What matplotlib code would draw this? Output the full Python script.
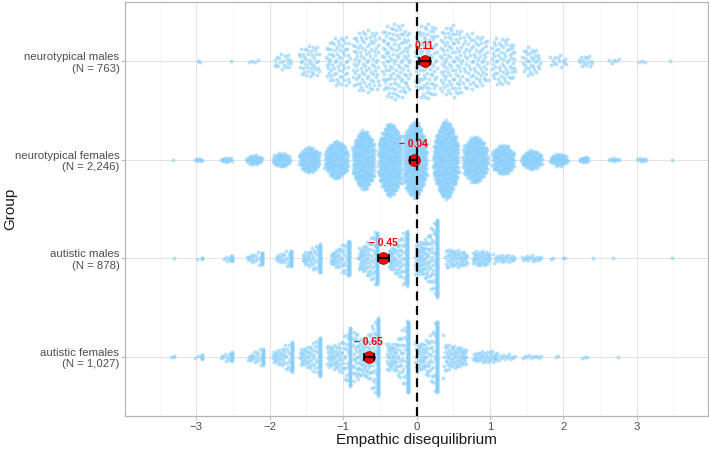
import numpy as np
import matplotlib
matplotlib.use("Agg")
import matplotlib.pyplot as plt

plt.rcParams['font.family'] = ['Liberation Sans', 'DejaVu Sans']

# groups from bottom (y=1) to top (y=4)
groups = ["autistic females\n(N = 1,027)", "autistic males\n(N = 878)",
          "neurotypical females\n(N = 2,246)", "neurotypical males\n(N = 763)"]
means = [-0.65, -0.45, -0.04, 0.11]
ci_half = [0.065, 0.07, 0.045, 0.075]
mean_labels = ["\u2212 0.65", "\u2212 0.45", "\u2212 0.04", "0.11"]

# neurotypical males: score clusters (centre, half width, count)
ntm_mid = [-2.96, -2.52, -2.22, -1.82, -1.46, -1.07, -0.69, -0.28, 0.13,
           0.47, 0.80, 1.18, 1.56, 1.93, 2.30, 2.69, 3.07, 3.45]
ntm_half = [0.03, 0.02, 0.08, 0.12, 0.14, 0.16, 0.18, 0.19, 0.15,
            0.15, 0.17, 0.16, 0.12, 0.12, 0.10, 0.08, 0.06, 0.03]
ntm_n = [2, 1, 4, 19, 42, 69, 95, 123, 100, 91, 78, 68, 34, 14, 14, 5, 3, 1]

# neurotypical females
ntf_mid = [-3.32, -2.97, -2.59, -2.21, -1.84, -1.46, -1.09, -0.72, -0.36, -0.02,
           0.40, 0.80, 1.18, 1.57, 1.94, 2.28, 2.69, 3.07, 3.48]
ntf_half = [0.02, 0.06, 0.09, 0.12, 0.13, 0.15, 0.17, 0.16, 0.17, 0.17,
            0.18, 0.18, 0.16, 0.15, 0.13, 0.07, 0.09, 0.08, 0.02]
ntf_n = [1, 8, 15, 35, 55, 109, 175, 261, 335, 350,
         376, 226, 134, 81, 49, 17, 9, 9, 1]

# autistic males: stacked scores (spikes) with a tail to their left
am_spike_at = [-3.30, -2.92, -2.51, -2.11, -1.71, -1.32, -0.92, -0.54, -0.13, 0.28]
am_spike_n = [1, 3, 7, 15, 20, 35, 45, 66, 68, 104]
am_tail_n = [0, 1, 6, 16, 20, 37, 47, 70, 70, 105]
am_tail_w = [0.04, 0.07, 0.11, 0.20, 0.20, 0.23, 0.25, 0.25, 0.25, 0.30]
am_mid = [0.54, 0.88, 1.19, 1.57, 1.85, 2.01, 2.41, 2.68, 3.48]
am_half = [0.15, 0.12, 0.15, 0.14, 0.03, 0.03, 0.0, 0.0, 0.0]
am_n = [53, 41, 24, 17, 2, 2, 1, 1, 1]

# autistic females
af_spike_at = [-3.30, -2.92, -2.51, -2.09, -1.70, -1.32, -0.91, -0.53, -0.12, 0.28]
af_spike_n = [2, 5, 10, 18, 34, 44, 60, 95, 90, 90]
af_tail_n = [1, 3, 10, 19, 38, 50, 67, 110, 73, 75]
af_tail_w = [0.04, 0.10, 0.15, 0.20, 0.26, 0.27, 0.31, 0.34, 0.29, 0.30]
af_mid = [0.52, 0.93, 1.21, 1.57, 1.91, 2.29, 2.75]
af_half = [0.16, 0.16, 0.14, 0.14, 0.03, 0.05, 0.0]
af_n = [67, 36, 14, 10, 2, 3, 1]


def cluster_values(mid, half, n, peak=0.0):
    out = []
    for m, h, k in zip(mid, half, n):
        if k == 1:
            out.append(np.array([m]))
        elif k > 1:
            u = (np.arange(k) + 0.5) / k
            flat = 2 * u - 1
            tri = np.where(u < 0.5, np.sqrt(2 * u) - 1, 1 - np.sqrt(2 * (1 - u)))
            out.append(m + h * ((1 - peak) * flat + peak * tri))
    return out


def spike_values(at, spike_n, tail_n, tail_w):
    out = []
    for a, s, t, w in zip(at, spike_n, tail_n, tail_w):
        out.append(np.full(s, a))
        if t == 1:
            out.append(np.array([a - w]))
        elif t > 1:
            out.append(np.linspace(a - w, a - 0.01, t))
    return out


def van_der_corput(n):
    out = np.zeros(n)
    for i in range(1, n + 1):
        k, denom, v = i, 1, 0.0
        while k:
            denom *= 2
            k, r = divmod(k, 2)
            v += r / denom
        out[i - 1] = v
    return out


def quasirandom(vals, width=0.4, adjust=0.35):
    """Offsets like ggbeeswarm::geom_quasirandom."""
    n = len(vals)
    order = np.argsort(vals, kind="stable")
    rank = np.empty(n, int)
    rank[order] = np.arange(n)
    off = (van_der_corput(n)[rank] - 0.5) * 2
    sd = vals.std(ddof=1)
    iqr = np.subtract(*np.percentile(vals, [75, 25]))
    bw = 0.9 * min(sd, iqr / 1.34) * n ** -0.2 * adjust
    grid = np.linspace(vals.min() - 3 * bw, vals.max() + 3 * bw, 512)
    dens = np.exp(-0.5 * ((grid[:, None] - vals[None, :]) / bw) ** 2).sum(1)
    dens /= dens.max()
    return off * np.interp(vals, grid, dens) * width


data = [
    np.concatenate(spike_values(af_spike_at, af_spike_n, af_tail_n, af_tail_w)
                   + cluster_values(af_mid, af_half, af_n)),
    np.concatenate(spike_values(am_spike_at, am_spike_n, am_tail_n, am_tail_w)
                   + cluster_values(am_mid, am_half, am_n)),
    np.concatenate(cluster_values(ntf_mid, ntf_half, ntf_n, peak=0.5)),
    np.concatenate(cluster_values(ntm_mid, ntm_half, ntm_n)),
]

fig = plt.figure(figsize=(7.09, 4.5), dpi=100)
ax = fig.add_axes([125 / 709, 34 / 450, 583 / 709, 414 / 450])

for i, vals in enumerate(data):
    y = i + 1 + quasirandom(vals)
    ax.scatter(vals, y, s=8, color="#87CEFA", alpha=0.6, linewidths=0, zorder=2)

ax.axvline(0, color="black", ls=(0, (4, 2.5)), lw=1.6, zorder=3)

ypos = np.arange(1, len(groups) + 1)
ax.scatter(means, ypos, s=70, color="red", edgecolors="#990000",
           linewidths=0.6, zorder=4)
ax.errorbar(means, ypos, xerr=ci_half, fmt="none", ecolor="black",
            elinewidth=1.6, capsize=3, capthick=1.2, zorder=5)
for m, y, lab in zip(means, ypos, mean_labels):
    ax.text(m, y + 0.155, lab, color="red", fontweight="bold", fontsize=7.4,
            ha="center", va="center", zorder=6)

ax.set_xlim(-3.97, 3.97)
ax.set_ylim(0.4, 4.6)
ax.set_xticks(range(-3, 4))
ax.set_xticklabels(["\u22123", "\u22122", "\u22121", "0", "1", "2", "3"])
ax.set_xticks(np.arange(-3.5, 4, 1.0), minor=True)
ax.set_yticks(ypos)
ax.set_yticklabels(groups)

ax.grid(which="major", color="#DEDEDE", lw=0.6)
ax.grid(which="minor", axis="x", color="#EFEFEF", lw=0.4)
ax.set_axisbelow(True)
for s in ax.spines.values():
    s.set_color("#B3B3B3")
    s.set_linewidth(0.9)
ax.tick_params(which="major", length=3, width=0.6, color="#B3B3B3",
               labelcolor="#4D4D4D", labelsize=8.2, pad=1)
ax.tick_params(which="minor", length=0)

ax.set_xlabel("Empathic disequilibrium", fontsize=11, color="#1A1A1A", labelpad=1)
ax.set_ylabel("Group", fontsize=11, color="#1A1A1A")
ax.yaxis.set_label_coords(-0.185, 0.5)

fig.savefig("out.png", dpi=100)
